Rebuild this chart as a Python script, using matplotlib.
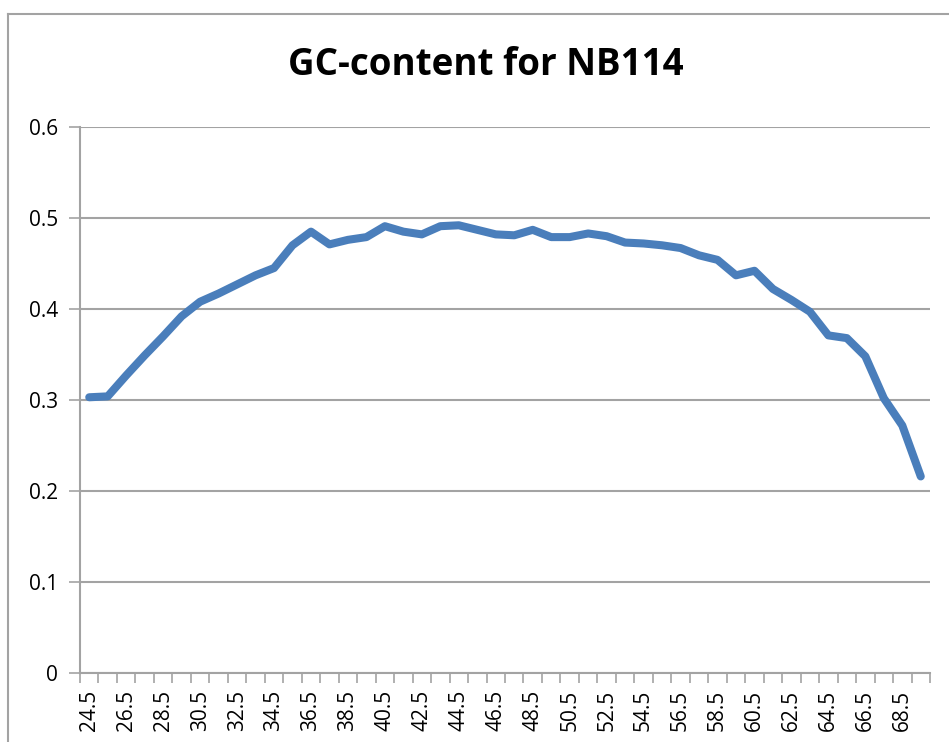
import numpy as np
import matplotlib
matplotlib.use("Agg")
import matplotlib.pyplot as plt
from matplotlib.lines import Line2D

# window midpoints (GC %) and GC-content per window
bins = [24.5, 25.5, 26.5, 27.5, 28.5, 29.5, 30.5, 31.5, 32.5, 33.5,
        34.5, 35.5, 36.5, 37.5, 38.5, 39.5, 40.5, 41.5, 42.5, 43.5,
        44.5, 45.5, 46.5, 47.5, 48.5, 49.5, 50.5, 51.5, 52.5, 53.5,
        54.5, 55.5, 56.5, 57.5, 58.5, 59.5, 60.5, 61.5, 62.5, 63.5,
        64.5, 65.5, 66.5, 67.5, 68.5, 69.5]
gc = [0.303, 0.304, 0.327, 0.349, 0.370, 0.392, 0.408, 0.417, 0.427, 0.437,
      0.445, 0.470, 0.485, 0.471, 0.476, 0.479, 0.491, 0.485, 0.482, 0.491,
      0.492, 0.487, 0.482, 0.481, 0.487, 0.479, 0.479, 0.483, 0.480, 0.473,
      0.472, 0.470, 0.467, 0.459, 0.454, 0.437, 0.442, 0.422, 0.410, 0.397,
      0.371, 0.368, 0.348, 0.302, 0.272, 0.216]
yticks = [0, 0.1, 0.2, 0.3, 0.4, 0.5, 0.6]

plt.rcParams['font.family'] = ['Open Sans', 'DejaVu Sans']
grey = '#a3a3a3'

fig = plt.figure(figsize=(9.49, 7.42), dpi=100)
ax = fig.add_axes([80/949, 69/742, 850/949, 546/742])

pos = np.arange(len(bins))
ax.plot(pos, gc, color='#4a7ebb', linewidth=5.8,
        solid_capstyle='round', solid_joinstyle='round', zorder=3)

ax.set_xlim(-0.5, len(bins) - 0.5)
ax.set_ylim(0, 0.6)
ax.set_yticks(yticks)
ax.set_yticklabels(['0' if v == 0 else f'{v:.1f}' for v in yticks])

# category ticks sit between points, labels on every other point
ax.set_xticks(np.arange(-0.5, len(bins)))
ax.set_xticklabels([])
ax.set_xticks(pos[::2], minor=True)
ax.set_xticklabels([f'{b:.1f}' for b in bins[::2]], minor=True, rotation=90)

ax.tick_params(axis='y', length=8, width=1.2, color=grey, pad=8, labelsize=15)
ax.tick_params(axis='x', which='major', direction='out', length=7, width=1.2, color=grey)
ax.tick_params(axis='x', which='minor', length=0, pad=12, labelsize=15)

ax.grid(axis='y', color=grey, linewidth=1.5)
ax.set_axisbelow(True)
for side in ['top', 'right']:
    ax.spines[side].set_visible(False)
for side in ['left', 'bottom']:
    ax.spines[side].set_color(grey)
    ax.spines[side].set_linewidth(1.5)

fig.text(486/949, 1 - 75/742, 'GC-content for NB114', fontsize=26.5,
         fontweight='bold', ha='center', va='baseline')

# chart frame
fig.add_artist(Line2D([8/949, 8/949], [0, 1 - 14/742], transform=fig.transFigure,
                      color=grey, linewidth=1.5))
fig.add_artist(Line2D([8/949, 1], [1 - 14/742, 1 - 14/742], transform=fig.transFigure,
                      color=grey, linewidth=1.5))

fig.savefig('out.png', dpi=100)
